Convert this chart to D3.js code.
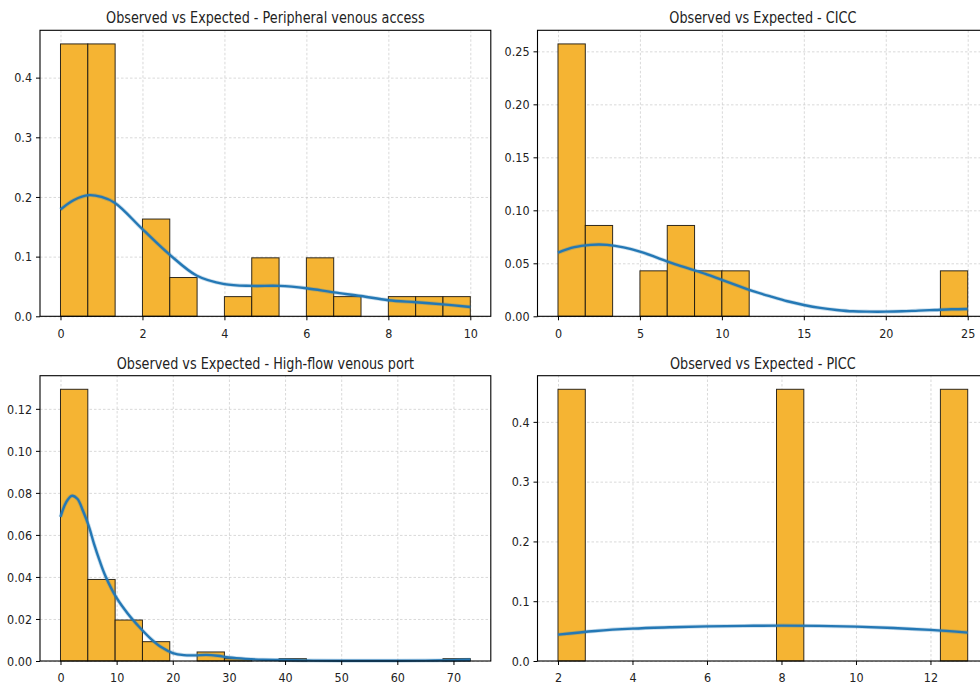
<!DOCTYPE html>
<html>
<head>
<meta charset="utf-8">
<script src="https://cdn.jsdelivr.net/npm/d3@7"></script>
<style>
  body { margin: 0; background: #fff; }
  svg { display: block; font-family: "DejaVu Sans", sans-serif; }
  .grid line { stroke: #c8c8c8; stroke-width: 0.7; stroke-dasharray: 2.5,2; }
  .axis path, .axis line { stroke: #000; }
  .bar { fill: #f5b433; stroke: #1a1610; stroke-opacity: 0.9; stroke-width: 1; }
  .kde { fill: none; stroke: #2478b5; stroke-width: 2.4; }
  .kde-halo { fill: none; stroke: #2478b5; stroke-opacity: 0.25; stroke-width: 4; }
  .frame { fill: none; stroke: #000; stroke-width: 1.1; }
</style>
</head>
<body>
<svg id="chart"></svg>
<script>
// ---- data ----
const titles = [
  'Observed vs Expected - Peripheral venous access',
  'Observed vs Expected - CICC',
  'Observed vs Expected - High-flow venous port',
  'Observed vs Expected - PICC'
];

// histogram bin range (15 bins each) and bar heights (density)
const pvaRange = [0, 10];
const pvaDensity = [0.4565, 0.4565, 0, 0.163, 0.065, 0, 0.033, 0.098, 0, 0.098, 0.033, 0, 0.033, 0.033, 0.033];
const ciccRange = [0, 25];
const ciccDensity = [0.257, 0.0857, 0, 0.0429, 0.0857, 0.0429, 0.0429, 0, 0, 0, 0, 0, 0, 0, 0.0429];
const hfpRange = [0, 73];
const hfpDensity = [0.1293, 0.0388, 0.0195, 0.0092, 0, 0.0043, 0.0011, 0, 0.0011, 0, 0, 0, 0, 0, 0.0011];
const piccRange = [2, 13];
const piccDensity = [0.4545, 0, 0, 0, 0, 0, 0, 0, 0.4545, 0, 0, 0, 0, 0, 0.4545];

// expected (kde) curves, [x, density]
const pvaKde = [[0, 0.179], [0.33, 0.195], [0.69, 0.203], [1, 0.2], [1.33, 0.19], [2, 0.146], [2.67, 0.103],
  [3.33, 0.068], [4, 0.054], [4.67, 0.051], [5.33, 0.051], [6, 0.047], [6.67, 0.04], [7.33, 0.034],
  [8, 0.027], [8.67, 0.0235], [9.33, 0.02], [10, 0.0157]];
const ciccKde = [[0, 0.0601], [1, 0.0652], [2, 0.0674], [2.5, 0.0677], [3, 0.0674], [4, 0.065], [5, 0.061],
  [6, 0.0557], [7, 0.05], [8, 0.045], [9, 0.04], [10, 0.0343], [11, 0.0287], [12, 0.0233], [13, 0.0186],
  [14, 0.0142], [15, 0.0107], [16, 0.0079], [17, 0.006], [18, 0.0047], [19, 0.0044], [20, 0.0044],
  [21, 0.0047], [22, 0.0054], [23, 0.006], [24, 0.0066], [25, 0.0069]];
const hfpKde = [[0, 0.0686], [1, 0.0755], [2, 0.0786], [3, 0.0772], [4, 0.0715], [5, 0.0645], [6, 0.0555],
  [7, 0.0475], [8, 0.0405], [10, 0.03], [12, 0.0225], [14, 0.0163], [16, 0.0108], [18, 0.0065],
  [20, 0.0038], [22, 0.0028], [24, 0.0027], [26, 0.0029], [28, 0.0025], [30, 0.0017], [33, 0.001],
  [36, 0.0006], [40, 0.0005], [45, 0.0002], [50, 0.0001], [55, 0.0001], [60, 0.0001], [65, 0.0002],
  [70, 0.0004], [73, 0.0006]];
const piccKde = [[2, 0.0441], [3, 0.0503], [4, 0.0542], [5, 0.0564], [6, 0.058], [7, 0.0587], [8, 0.0592],
  [9, 0.0587], [10, 0.0575], [11, 0.0553], [12, 0.052], [13, 0.0475]];

// tick labels
const pvaXTicks = [0, 2, 4, 6, 8, 10];
const pvaYTicks = [0, 0.1, 0.2, 0.3, 0.4];
const ciccXTicks = [0, 5, 10, 15, 20, 25];
const ciccYTicks = [0, 0.05, 0.10, 0.15, 0.20, 0.25];
const hfpXTicks = [0, 10, 20, 30, 40, 50, 60, 70];
const hfpYTicks = [0, 0.02, 0.04, 0.06, 0.08, 0.10, 0.12];
const piccXTicks = [2, 4, 6, 8, 10, 12];
const piccYTicks = [0, 0.1, 0.2, 0.3, 0.4];

// text in the reference is horizontally condensed
function squeeze(sel, k) {
  sel.each(function() {
    const w = this.getComputedTextLength();
    this.setAttribute('textLength', w * k);
    this.setAttribute('lengthAdjust', 'spacingAndGlyphs');
  });
}

function styleTicks(g) {
  g.select('.domain').remove();
  g.selectAll('text')
      .attr('font-family', '"DejaVu Sans", sans-serif')
      .attr('font-size', 13)
      .attr('fill', '#222')
      .call(squeeze, 0.86);
}

class HistKdePanel {
  constructor(_config) {
    this.config = _config;
    this.initVis();
  }

  initVis() {
    let vis = this;
    const c = vis.config;
    vis.width = c.right - c.left;
    vis.height = c.bottom - c.top;

    const [lo, hi] = c.range;
    const pad = (hi - lo) * 0.05;
    vis.xScale = d3.scaleLinear().domain([lo - pad, hi + pad]).range([0, vis.width]);
    vis.yScale = d3.scaleLinear().domain([0, d3.max(c.density) * 1.05]).range([vis.height, 0]);

    vis.chart = c.svg.append('g').attr('transform', `translate(${c.left},${c.top})`);

    // gridlines first, under the bars
    vis.chart.append('g').attr('class', 'grid')
        .attr('transform', `translate(0,${vis.height})`)
        .call(d3.axisBottom(vis.xScale).tickValues(c.xTicks).tickSize(-vis.height).tickFormat(''))
        .call(g => g.select('.domain').remove());
    vis.chart.append('g').attr('class', 'grid')
        .call(d3.axisLeft(vis.yScale).tickValues(c.yTicks).tickSize(-vis.width).tickFormat(''))
        .call(g => g.select('.domain').remove());

    vis.renderVis();
  }

  renderVis() {
    let vis = this;
    const c = vis.config;
    const [lo, hi] = c.range;
    const step = (hi - lo) / c.density.length;
    const bins = c.density.map((d, i) => ({x0: lo + i * step, x1: lo + (i + 1) * step, d: d}))
        .filter(b => b.d > 0);

    vis.chart.selectAll('.bar')
        .data(bins)
      .join('rect')
        .attr('class', 'bar')
        .attr('x', b => vis.xScale(b.x0))
        .attr('width', b => vis.xScale(b.x1) - vis.xScale(b.x0))
        .attr('y', b => vis.yScale(b.d))
        .attr('height', b => vis.yScale(0) - vis.yScale(b.d));

    const line = d3.line()
        .x(d => vis.xScale(d[0]))
        .y(d => vis.yScale(d[1]))
        .curve(d3.curveCatmullRom.alpha(0.5));
    vis.chart.append('path').attr('class', 'kde-halo').attr('d', line(c.kde));
    vis.chart.append('path').attr('class', 'kde').attr('d', line(c.kde));

    vis.chart.append('rect').attr('class', 'frame')
        .attr('width', vis.width).attr('height', vis.height);

    vis.chart.append('g').attr('class', 'axis')
        .attr('transform', `translate(0,${vis.height})`)
        .call(d3.axisBottom(vis.xScale).tickValues(c.xTicks).tickSize(4).tickPadding(8).tickFormat(d3.format('d')))
        .call(styleTicks);

    vis.chart.append('g').attr('class', 'axis')
        .call(d3.axisLeft(vis.yScale).tickValues(c.yTicks).tickSize(4).tickPadding(4).tickFormat(d3.format(c.yFormat)))
        .call(styleTicks);

    vis.chart.append('text')
        .attr('x', vis.width / 2).attr('y', -7)
        .attr('text-anchor', 'middle')
        .attr('font-size', 16)
        .attr('fill', '#222')
        .text(c.title)
        .call(squeeze, 0.80);
  }
}

const svg = d3.select('#chart').attr('width', 980).attr('height', 683);

const cols = [{left: 40, right: 490.8}, {left: 537.5, right: 988.2}];
const rows = [{top: 30.3, bottom: 316.3}, {top: 375.7, bottom: 661}];

const panels = [
  {title: titles[0], range: pvaRange, density: pvaDensity, kde: pvaKde, xTicks: pvaXTicks, yTicks: pvaYTicks, yFormat: '.1f'},
  {title: titles[1], range: ciccRange, density: ciccDensity, kde: ciccKde, xTicks: ciccXTicks, yTicks: ciccYTicks, yFormat: '.2f'},
  {title: titles[2], range: hfpRange, density: hfpDensity, kde: hfpKde, xTicks: hfpXTicks, yTicks: hfpYTicks, yFormat: '.2f'},
  {title: titles[3], range: piccRange, density: piccDensity, kde: piccKde, xTicks: piccXTicks, yTicks: piccYTicks, yFormat: '.1f'}
];

panels.forEach((p, i) => {
  new HistKdePanel(Object.assign({svg: svg}, cols[i % 2], rows[Math.floor(i / 2)], p));
});
</script>
</body>
</html>
